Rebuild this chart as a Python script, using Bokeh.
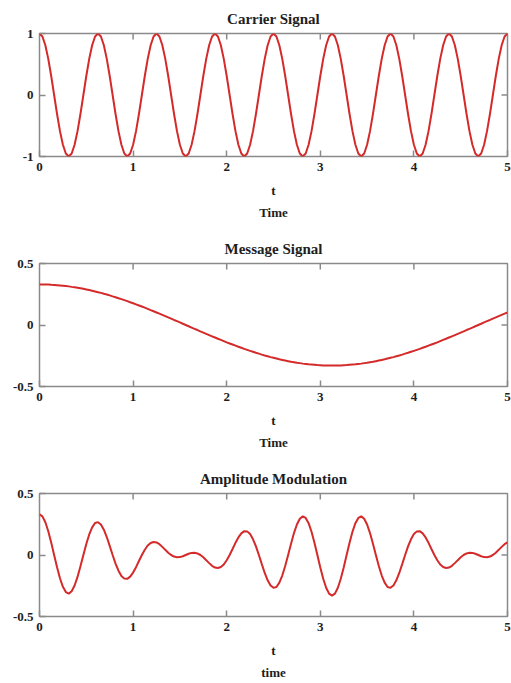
from math import pi
from bokeh.plotting import figure
from bokeh.models import FixedTicker, LinearAxis, Title, Range1d
from bokeh.layouts import column
from bokeh.embed import file_html
from bokeh.resources import INLINE

# ---------------- data ----------------
T = [
    0.0, 0.03125, 0.0625, 0.09375, 0.125, 0.15625, 0.1875, 0.21875,
    0.25, 0.28125, 0.3125, 0.34375, 0.375, 0.40625, 0.4375, 0.46875,
    0.5, 0.53125, 0.5625, 0.59375, 0.625, 0.65625, 0.6875, 0.71875,
    0.75, 0.78125, 0.8125, 0.84375, 0.875, 0.90625, 0.9375, 0.96875,
    1.0, 1.03125, 1.0625, 1.09375, 1.125, 1.15625, 1.1875, 1.21875,
    1.25, 1.28125, 1.3125, 1.34375, 1.375, 1.40625, 1.4375, 1.46875,
    1.5, 1.53125, 1.5625, 1.59375, 1.625, 1.65625, 1.6875, 1.71875,
    1.75, 1.78125, 1.8125, 1.84375, 1.875, 1.90625, 1.9375, 1.96875,
    2.0, 2.03125, 2.0625, 2.09375, 2.125, 2.15625, 2.1875, 2.21875,
    2.25, 2.28125, 2.3125, 2.34375, 2.375, 2.40625, 2.4375, 2.46875,
    2.5, 2.53125, 2.5625, 2.59375, 2.625, 2.65625, 2.6875, 2.71875,
    2.75, 2.78125, 2.8125, 2.84375, 2.875, 2.90625, 2.9375, 2.96875,
    3.0, 3.03125, 3.0625, 3.09375, 3.125, 3.15625, 3.1875, 3.21875,
    3.25, 3.28125, 3.3125, 3.34375, 3.375, 3.40625, 3.4375, 3.46875,
    3.5, 3.53125, 3.5625, 3.59375, 3.625, 3.65625, 3.6875, 3.71875,
    3.75, 3.78125, 3.8125, 3.84375, 3.875, 3.90625, 3.9375, 3.96875,
    4.0, 4.03125, 4.0625, 4.09375, 4.125, 4.15625, 4.1875, 4.21875,
    4.25, 4.28125, 4.3125, 4.34375, 4.375, 4.40625, 4.4375, 4.46875,
    4.5, 4.53125, 4.5625, 4.59375, 4.625, 4.65625, 4.6875, 4.71875,
    4.75, 4.78125, 4.8125, 4.84375, 4.875, 4.90625, 4.9375, 4.96875,
    5.0,
]

CARRIER = [
    1.0, 0.951, 0.809, 0.588, 0.309, 0.0, -0.309, -0.588, -0.809, -0.951,
    -1.0, -0.951, -0.809, -0.588, -0.309, 0.0, 0.309, 0.588, 0.809, 0.951,
    1.0, 0.951, 0.809, 0.588, 0.309, 0.0, -0.309, -0.588, -0.809, -0.951,
    -1.0, -0.951, -0.809, -0.588, -0.309, 0.0, 0.309, 0.588, 0.809, 0.951,
    1.0, 0.951, 0.809, 0.588, 0.309, 0.0, -0.309, -0.588, -0.809, -0.951,
    -1.0, -0.951, -0.809, -0.588, -0.309, 0.0, 0.309, 0.588, 0.809, 0.951,
    1.0, 0.951, 0.809, 0.588, 0.309, 0.0, -0.309, -0.588, -0.809, -0.951,
    -1.0, -0.951, -0.809, -0.588, -0.309, 0.0, 0.309, 0.588, 0.809, 0.951,
    1.0, 0.951, 0.809, 0.588, 0.309, 0.0, -0.309, -0.588, -0.809, -0.951,
    -1.0, -0.951, -0.809, -0.588, -0.309, 0.0, 0.309, 0.588, 0.809, 0.951,
    1.0, 0.951, 0.809, 0.588, 0.309, 0.0, -0.309, -0.588, -0.809, -0.951,
    -1.0, -0.951, -0.809, -0.588, -0.309, 0.0, 0.309, 0.588, 0.809, 0.951,
    1.0, 0.951, 0.809, 0.588, 0.309, 0.0, -0.309, -0.588, -0.809, -0.951,
    -1.0, -0.951, -0.809, -0.588, -0.309, 0.0, 0.309, 0.588, 0.809, 0.951,
    1.0, 0.951, 0.809, 0.588, 0.309, 0.0, -0.309, -0.588, -0.809, -0.951,
    -1.0, -0.951, -0.809, -0.588, -0.309, 0.0, 0.309, 0.588, 0.809, 0.951,
    1.0,
]

MESSAGE = [
    0.330, 0.330, 0.329, 0.329, 0.327, 0.326, 0.324, 0.322, 0.320, 0.317,
    0.314, 0.310, 0.307, 0.303, 0.299, 0.294, 0.289, 0.284, 0.279, 0.273,
    0.267, 0.261, 0.254, 0.248, 0.241, 0.233, 0.226, 0.218, 0.210, 0.202,
    0.194, 0.185, 0.177, 0.168, 0.159, 0.150, 0.141, 0.131, 0.121, 0.112,
    0.102, 0.092, 0.082, 0.072, 0.062, 0.052, 0.041, 0.031, 0.021, 0.010,
    0.0, -0.010, -0.021, -0.031, -0.041, -0.052, -0.062, -0.072, -0.082, -0.092,
    -0.102, -0.112, -0.121, -0.131, -0.141, -0.150, -0.159, -0.168, -0.177, -0.185,
    -0.194, -0.202, -0.210, -0.218, -0.226, -0.233, -0.241, -0.248, -0.254, -0.261,
    -0.267, -0.273, -0.279, -0.284, -0.289, -0.294, -0.299, -0.303, -0.307, -0.310,
    -0.314, -0.317, -0.320, -0.322, -0.324, -0.326, -0.327, -0.329, -0.329, -0.330,
    -0.330, -0.330, -0.329, -0.329, -0.327, -0.326, -0.324, -0.322, -0.320, -0.317,
    -0.314, -0.310, -0.307, -0.303, -0.299, -0.294, -0.289, -0.284, -0.279, -0.273,
    -0.267, -0.261, -0.254, -0.248, -0.241, -0.233, -0.226, -0.218, -0.210, -0.202,
    -0.194, -0.185, -0.177, -0.168, -0.159, -0.150, -0.141, -0.131, -0.121, -0.112,
    -0.102, -0.092, -0.082, -0.072, -0.062, -0.052, -0.041, -0.031, -0.021, -0.010,
    0.0, 0.010, 0.021, 0.031, 0.041, 0.052, 0.062, 0.072, 0.082, 0.092,
    0.102,
]

MODULATED = [
    0.330, 0.314, 0.266, 0.193, 0.101, 0.0, -0.100, -0.189, -0.259, -0.301,
    -0.314, -0.295, -0.248, -0.178, -0.092, 0.0, 0.089, 0.167, 0.225, 0.260,
    0.267, 0.248, 0.206, 0.146, 0.074, 0.0, -0.070, -0.128, -0.170, -0.192,
    -0.194, -0.176, -0.143, -0.099, -0.049, 0.0, 0.043, 0.077, 0.098, 0.106,
    0.102, 0.088, 0.066, 0.042, 0.019, 0.0, -0.013, -0.018, -0.017, -0.010,
    0.0, 0.010, 0.017, 0.018, 0.013, 0.0, -0.019, -0.042, -0.066, -0.088,
    -0.102, -0.106, -0.098, -0.077, -0.043, 0.0, 0.049, 0.099, 0.143, 0.176,
    0.194, 0.192, 0.170, 0.128, 0.070, 0.0, -0.074, -0.146, -0.206, -0.248,
    -0.267, -0.260, -0.225, -0.167, -0.089, 0.0, 0.092, 0.178, 0.248, 0.295,
    0.314, 0.301, 0.259, 0.189, 0.100, 0.0, -0.101, -0.193, -0.266, -0.314,
    -0.330, -0.314, -0.266, -0.193, -0.101, 0.0, 0.100, 0.189, 0.259, 0.301,
    0.314, 0.295, 0.248, 0.178, 0.092, 0.0, -0.089, -0.167, -0.225, -0.260,
    -0.267, -0.248, -0.206, -0.146, -0.074, 0.0, 0.070, 0.128, 0.170, 0.192,
    0.194, 0.176, 0.143, 0.099, 0.049, 0.0, -0.043, -0.077, -0.098, -0.106,
    -0.102, -0.088, -0.066, -0.042, -0.019, 0.0, 0.013, 0.018, 0.017, 0.010,
    0.0, -0.010, -0.017, -0.018, -0.013, 0.0, 0.019, 0.042, 0.066, 0.088,
    0.102,
]

TITLES = ["Carrier Signal", "Message Signal", "Amplitude Modulation"]
X_LABEL = "t"
SUB_LABELS = ["Time", "Time", "time"]
X_TICKS = [0, 1, 2, 3, 4, 5]
X_TICK_LABELS = ["0", "1", "2", "3", "4", "5"]
X_INNER_TICKS = [1, 2, 3, 4]
Y_TICKS_CARRIER = [-1, 0, 1]
Y_TICK_LABELS_CARRIER = ["-1", "0", "1"]
Y_TICKS_HALF = [-0.5, 0, 0.5]
Y_TICK_LABELS_HALF = ["-0.5", "0", "0.5"]
Y_INNER_TICKS = [0]

# ---------------- styling ----------------
FONT = "Liberation Serif"
TEXT_COLOR = "#1e1e1e"
FRAME_COLOR = "#8a8a8a"
LINE_COLOR = "#d42a2a"


def style_axis(ax):
    ax.axis_line_color = None
    ax.major_tick_in = 6
    ax.major_tick_out = 0
    ax.minor_tick_line_color = None
    ax.major_tick_line_color = FRAME_COLOR
    ax.major_tick_line_width = 1.5
    ax.major_label_text_font = FONT
    ax.major_label_text_font_style = "bold"
    ax.major_label_text_color = TEXT_COLOR
    ax.major_label_text_font_size = "13px"
    ax.major_label_standoff = 6


def make_panel(title, sub_label, ys, y_ticks, y_labels, border_left, height, border_bottom):
    y_lo, y_hi = y_ticks[0], y_ticks[-1]
    x_lo, x_hi = X_TICKS[0], X_TICKS[-1]
    p = figure(width=511, height=height,
               x_range=Range1d(x_lo, x_hi), y_range=Range1d(y_lo, y_hi),
               x_axis_type=None, y_axis_type=None,
               output_backend="svg", toolbar_location=None,
               min_border_left=border_left, min_border_right=4,
               min_border_top=33, min_border_bottom=border_bottom)
    p.grid.visible = False
    p.outline_line_color = FRAME_COLOR
    p.outline_line_width = 1.5
    p.background_fill_color = "white"
    p.border_fill_color = "white"

    p.title.text = title
    p.title.align = "center"
    p.title.text_font = FONT
    p.title.text_font_size = "15px"
    p.title.text_font_style = "bold"
    p.title.text_color = TEXT_COLOR
    p.title.standoff = 14

    below = LinearAxis(ticker=FixedTicker(ticks=X_TICKS),
                       major_label_overrides=dict(zip(X_TICKS, X_TICK_LABELS)))
    style_axis(below)
    below.axis_label = X_LABEL
    below.axis_label_text_font = FONT
    below.axis_label_text_font_size = "13px"
    below.axis_label_text_font_style = "bold"
    below.axis_label_text_color = TEXT_COLOR
    below.axis_label_standoff = 9
    p.add_layout(below, "below")

    left = LinearAxis(ticker=FixedTicker(ticks=y_ticks),
                      major_label_overrides=dict(zip(y_ticks, y_labels)))
    style_axis(left)
    p.add_layout(left, "left")

    p.add_layout(Title(text=sub_label, align="center", text_font=FONT,
                       text_font_size="13px", text_font_style="bold",
                       text_color=TEXT_COLOR, standoff=5), "below")

    # mirrored inward ticks on the top and right edges of the frame
    p.scatter(X_INNER_TICKS, [y_hi] * len(X_INNER_TICKS), marker="dash", angle=pi / 2,
              size=12, line_color=FRAME_COLOR, line_width=1.5)
    p.scatter([x_hi] * len(Y_INNER_TICKS), Y_INNER_TICKS, marker="dash",
              size=12, line_color=FRAME_COLOR, line_width=1.5)

    p.line(T, ys, line_color=LINE_COLOR, line_width=2)
    return p


p1 = make_panel(TITLES[0], SUB_LABELS[0], CARRIER, Y_TICKS_CARRIER, Y_TICK_LABELS_CARRIER, 36, 230, 74)
p2 = make_panel(TITLES[1], SUB_LABELS[1], MESSAGE, Y_TICKS_HALF, Y_TICK_LABELS_HALF, 39, 230, 74)
p3 = make_panel(TITLES[2], SUB_LABELS[2], MODULATED, Y_TICKS_HALF, Y_TICK_LABELS_HALF, 39, 223, 67)

layout = column(p1, p2, p3, spacing=0)

open("out.html", "w").write(file_html(layout, INLINE))
